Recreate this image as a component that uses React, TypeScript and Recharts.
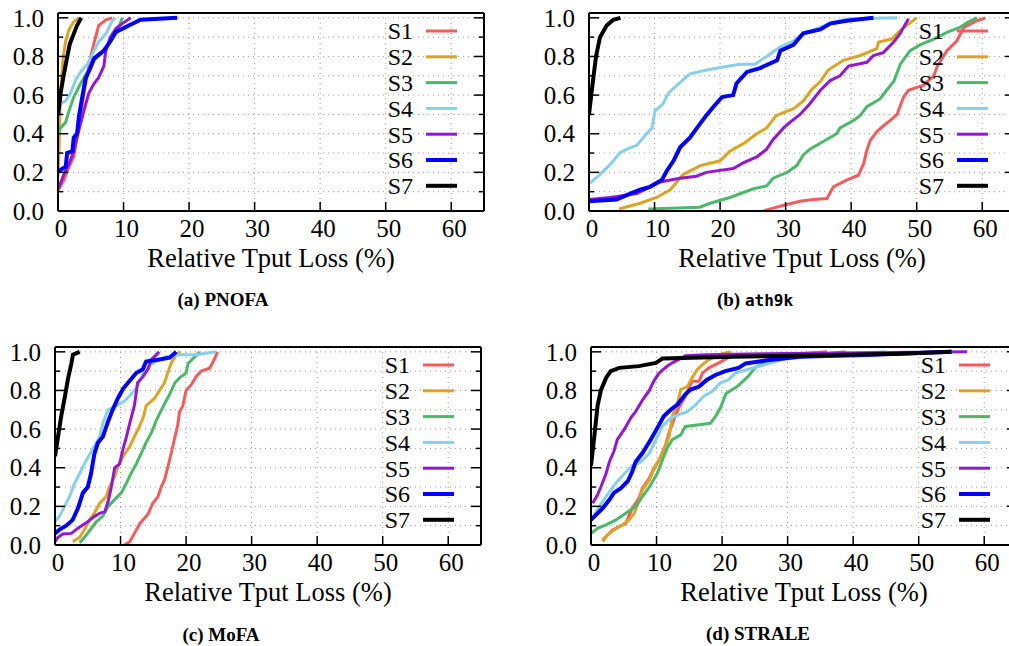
import { LineChart, Line, CartesianGrid, XAxis, YAxis, Legend } from 'recharts';

type Pt = [number, number];

const seriesNames = ['S1', 'S2', 'S3', 'S4', 'S5', 'S6', 'S7'];
const seriesColors = ['#f25c5c', '#dca324', '#4cb86a', '#87cfea', '#9418d3', '#0000ff', '#000000'];
const seriesWidths = [3, 3, 3, 3, 3, 4, 4];

const xTicks = [0, 10, 20, 30, 40, 50, 60];
const yTicks = [0, 0.1, 0.2, 0.3, 0.4, 0.5, 0.6, 0.7, 0.8, 0.9, 1.0];
const axisTitle = 'Relative Tput Loss (%)';

// (a) PNOFA
const pnofaS1: Pt[] = [[0, 0.12], [0.15, 0.115], [0.9, 0.16], [1.7, 0.23], [2.4, 0.28], [2.9, 0.38], [3.45, 0.5], [3.96, 0.61], [4.5, 0.71], [5, 0.8], [5.5, 0.87], [6.2, 0.96], [7.3, 0.99], [8.3, 1.0]];
const pnofaS2: Pt[] = [[0, 0.176], [0.15, 0.31], [0.3, 0.52], [0.5, 0.66], [0.8, 0.8], [1.17, 0.88], [1.7, 0.94], [2.4, 0.98], [3.2, 1.0]];
const pnofaS3: Pt[] = [[0, 0.4], [0.4, 0.43], [1.17, 0.46], [1.7, 0.52], [2.4, 0.59], [3.45, 0.66], [4.5, 0.72], [5.5, 0.78], [6.75, 0.82], [7.8, 0.865], [8.8, 0.917], [9.5, 0.97], [9.8, 1.0]];
const pnofaS4: Pt[] = [[0, 0.486], [0.4, 0.555], [1.17, 0.57], [1.93, 0.61], [2.7, 0.68], [3.45, 0.72], [4.5, 0.76], [5.5, 0.83], [6.2, 0.875], [7.3, 0.917], [8.3, 0.986], [8.8, 1.0]];
const pnofaS5: Pt[] = [[0, 0.12], [0.15, 0.124], [0.9, 0.19], [1.7, 0.245], [2.4, 0.31], [3.2, 0.42], [3.96, 0.52], [4.7, 0.61], [5.5, 0.66], [6.2, 0.69], [7, 0.75], [7.3, 0.83], [8, 0.9], [8.8, 0.943], [9.8, 0.97], [11.1, 1.0]];
const pnofaS6: Pt[] = [[0, 0.21], [0.25, 0.21], [1.17, 0.23], [1.4, 0.3], [2.2, 0.31], [2.4, 0.38], [2.9, 0.4], [3.2, 0.49], [3.45, 0.54], [3.96, 0.64], [4.2, 0.685], [5, 0.745], [5.5, 0.79], [7, 0.83], [8, 0.88], [8.8, 0.925], [9.8, 0.943], [10.8, 0.96], [12.6, 0.99], [18.2, 1.0]];
const pnofaS7: Pt[] = [[0, 0.495], [0.4, 0.61], [0.8, 0.69], [1.3, 0.78], [1.8, 0.865], [2.4, 0.917], [2.9, 0.96], [3.55, 1.0]];

// (b) ath9k
const athS1: Pt[] = [[26.6, 0], [29.7, 0.03], [32.2, 0.05], [34.2, 0.06], [36.3, 0.065], [37.3, 0.125], [39.3, 0.16], [41.1, 0.185], [41.9, 0.245], [42.4, 0.315], [42.9, 0.365], [43.9, 0.41], [44.9, 0.44], [46, 0.47], [47, 0.5], [48, 0.59], [48.75, 0.625], [50, 0.64], [51, 0.65], [52.6, 0.7], [53.1, 0.745], [54.6, 0.83], [56.1, 0.88], [57.2, 0.95], [59.2, 0.985], [60.5, 1.0]];
const athS2: Pt[] = [[4.6, 0.01], [7.8, 0.04], [10.3, 0.07], [12.4, 0.11], [14.4, 0.19], [17, 0.235], [20, 0.26], [21.5, 0.31], [23.6, 0.35], [25.6, 0.4], [27.1, 0.43], [28.6, 0.495], [31.2, 0.53], [32.7, 0.57], [34, 0.63], [35.3, 0.67], [36.5, 0.73], [38.8, 0.78], [41.4, 0.805], [43.9, 0.84], [44.2, 0.875], [46.2, 0.89], [47.5, 0.935], [50, 1.0]];
const athS3: Pt[] = [[9.05, 0.01], [16.9, 0.02], [18.5, 0.04], [21.5, 0.07], [25.1, 0.115], [27.1, 0.13], [28.1, 0.17], [30.2, 0.2], [31.7, 0.235], [32.7, 0.29], [33.7, 0.32], [36, 0.365], [37.8, 0.4], [38.3, 0.43], [40.4, 0.47], [41.4, 0.495], [42.4, 0.54], [44.4, 0.58], [45.4, 0.625], [46.5, 0.67], [47.5, 0.76], [49, 0.83], [50.5, 0.86], [52.6, 0.89], [54.6, 0.925], [56.6, 0.95], [57.7, 0.975], [59.2, 1.0]];
const athS4: Pt[] = [[0, 0.14], [1.7, 0.19], [3.2, 0.24], [4.7, 0.3], [5.75, 0.32], [7.3, 0.34], [8.8, 0.4], [9.6, 0.43], [10.1, 0.52], [11.3, 0.555], [12.1, 0.61], [13.4, 0.65], [15.4, 0.71], [18, 0.73], [20.5, 0.745], [23, 0.76], [25.3, 0.76], [27.1, 0.8], [29.2, 0.85], [31.2, 0.88], [32.7, 0.92], [35.3, 0.95], [37.3, 0.98], [39.8, 0.995], [47, 1.0]];
const athS5: Pt[] = [[0, 0.06], [3.2, 0.07], [7.3, 0.09], [9.3, 0.125], [10.8, 0.15], [13.9, 0.17], [16.4, 0.18], [17.9, 0.2], [22, 0.22], [23.6, 0.25], [25.6, 0.28], [27.1, 0.32], [28.1, 0.37], [29.7, 0.43], [30.7, 0.46], [32.2, 0.5], [33.7, 0.555], [35.3, 0.625], [36.8, 0.675], [38.3, 0.7], [39.6, 0.75], [42.4, 0.77], [43.4, 0.805], [44.9, 0.82], [46.5, 0.875], [47.5, 0.92], [48.75, 0.995]];
const athS6: Pt[] = [[0, 0.05], [4.2, 0.06], [6.3, 0.09], [7.8, 0.11], [9.3, 0.125], [11.1, 0.16], [11.9, 0.21], [12.9, 0.26], [13.9, 0.33], [15.4, 0.38], [16.9, 0.45], [17.9, 0.495], [19, 0.54], [20.3, 0.59], [22, 0.6], [22.5, 0.66], [24.1, 0.72], [26.1, 0.74], [28.7, 0.78], [29.2, 0.83], [31.2, 0.86], [32.7, 0.92], [35.3, 0.94], [36.8, 0.97], [39.3, 0.985], [43.4, 1.0]];
const athS7: Pt[] = [[0, 0.5], [0.66, 0.69], [1.07, 0.8], [1.68, 0.9], [2.7, 0.96], [3.7, 0.99], [4.8, 1.0]];

// (c) MoFA
const mofaS1: Pt[] = [[10.6, 0], [11.4, 0.017], [12.4, 0.077], [12.9, 0.11], [14.2, 0.16], [14.9, 0.215], [15.7, 0.25], [16.2, 0.3], [16.7, 0.337], [17.2, 0.4], [17.7, 0.47], [18.2, 0.545], [18.7, 0.615], [19, 0.69], [19.5, 0.72], [20, 0.8], [20.8, 0.83], [21.5, 0.87], [22.3, 0.9], [23.6, 0.915], [24.3, 0.96], [24.8, 1.0]];
const mofaS2: Pt[] = [[2.74, 0.017], [3.76, 0.04], [4.5, 0.08], [5.3, 0.13], [6, 0.165], [6.8, 0.215], [7.8, 0.25], [8.3, 0.3], [9.1, 0.355], [9.6, 0.405], [10.4, 0.46], [11.4, 0.51], [12.1, 0.56], [12.9, 0.615], [13.5, 0.665], [13.9, 0.72], [15.2, 0.76], [15.95, 0.8], [16.7, 0.84], [17.2, 0.89], [17.7, 0.94], [18.5, 0.985], [19.1, 1.0]];
const mofaS3: Pt[] = [[3.76, 0.012], [4.5, 0.04], [5.3, 0.075], [6.3, 0.12], [7.3, 0.15], [8.1, 0.2], [9.1, 0.235], [10.1, 0.27], [10.9, 0.32], [11.6, 0.37], [12.4, 0.42], [13.1, 0.47], [13.9, 0.53], [14.7, 0.58], [15.4, 0.64], [15.95, 0.68], [16.7, 0.73], [17.5, 0.78], [18.3, 0.84], [19, 0.865], [20, 0.89], [20.3, 0.94], [22.1, 1.0]];
const mofaS4: Pt[] = [[0, 0.12], [0.7, 0.15], [1.47, 0.2], [2.2, 0.25], [3, 0.32], [3.76, 0.37], [4.5, 0.42], [5.3, 0.47], [6, 0.51], [6.8, 0.56], [7.3, 0.63], [8.1, 0.7], [9.3, 0.72], [10.6, 0.745], [11.6, 0.78], [12.4, 0.81], [12.9, 0.85], [13.5, 0.89], [14.4, 0.93], [15.4, 0.95], [17, 0.975], [19, 0.985], [21.5, 0.985], [24.5, 1.0]];
const mofaS5: Pt[] = [[0, 0.017], [0.46, 0.04], [1.2, 0.057], [2.5, 0.06], [3.5, 0.087], [4.8, 0.116], [6, 0.147], [6.8, 0.164], [7.6, 0.173], [8.1, 0.225], [8.6, 0.3], [9.1, 0.4], [9.85, 0.42], [10.4, 0.5], [10.9, 0.56], [11.4, 0.63], [12.1, 0.72], [12.4, 0.79], [12.6, 0.84], [13.4, 0.87], [14.2, 0.91], [14.7, 0.96], [15.9, 1.0]];
const mofaS6: Pt[] = [[0, 0.06], [0.7, 0.08], [1.7, 0.1], [2.7, 0.13], [3.5, 0.19], [4.26, 0.27], [5, 0.3], [5.5, 0.37], [6, 0.47], [6.55, 0.53], [7.3, 0.56], [8.1, 0.64], [8.8, 0.7], [9.6, 0.76], [10.4, 0.81], [11.4, 0.85], [12.4, 0.89], [13.4, 0.91], [13.9, 0.95], [15.9, 0.96], [17.5, 0.97], [18.5, 1.0]];
const mofaS7: Pt[] = [[0, 0.46], [0.46, 0.56], [0.96, 0.67], [1.47, 0.76], [1.98, 0.86], [2.5, 0.94], [2.74, 0.985], [3.76, 1.0]];

// (d) STRALE
const straleS1: Pt[] = [[1.77, 0.026], [2.5, 0.052], [3.3, 0.078], [4.3, 0.095], [5.3, 0.112], [6.3, 0.19], [7.3, 0.242], [7.85, 0.294], [8.9, 0.346], [9.6, 0.398], [10.4, 0.44], [11.4, 0.52], [11.9, 0.58], [12.65, 0.65], [13.4, 0.71], [14.4, 0.77], [15.4, 0.848], [16.5, 0.848], [17, 0.89], [18, 0.917], [19.5, 0.943], [21.6, 0.983], [31.7, 0.99], [36, 1.0]];
const straleS2: Pt[] = [[1.77, 0.017], [2.5, 0.052], [3.5, 0.078], [4.8, 0.104], [5.8, 0.13], [6.6, 0.164], [7.1, 0.208], [7.85, 0.285], [8.9, 0.337], [9.6, 0.39], [10.4, 0.44], [11.1, 0.49], [11.9, 0.56], [12.4, 0.666], [13.2, 0.735], [13.7, 0.805], [14.7, 0.82], [15.4, 0.865], [16.2, 0.908], [17, 0.934], [18, 0.96], [19.5, 0.985], [21.3, 1.0]];
const straleS3: Pt[] = [[0, 0.06], [1, 0.086], [2.3, 0.104], [3.8, 0.13], [5.3, 0.164], [6.8, 0.2], [7.85, 0.25], [8.9, 0.3], [10.1, 0.37], [10.9, 0.44], [11.6, 0.5], [12.4, 0.545], [13.7, 0.57], [14.4, 0.614], [16.5, 0.623], [18.2, 0.63], [19, 0.666], [19.75, 0.71], [20.6, 0.784], [22.3, 0.82], [23.9, 0.87], [25.1, 0.92], [26.6, 0.948], [31.7, 0.974], [38.8, 1.0]];
const straleS4: Pt[] = [[0.25, 0.14], [1.27, 0.2], [2.3, 0.25], [3.8, 0.32], [5.1, 0.37], [6.3, 0.41], [7.6, 0.43], [8.9, 0.476], [9.9, 0.545], [10.9, 0.614], [12.15, 0.657], [13.4, 0.675], [14.7, 0.69], [16, 0.727], [17.2, 0.77], [18.5, 0.796], [19.75, 0.84], [21, 0.856], [22, 0.89], [25.1, 0.92], [29.2, 0.96], [34.3, 0.98], [39.3, 0.99], [45, 1.0]];
const straleS5: Pt[] = [[0.25, 0.216], [1, 0.26], [1.5, 0.3], [2.3, 0.37], [2.8, 0.43], [3.5, 0.485], [4, 0.545], [5.1, 0.6], [6.1, 0.66], [6.8, 0.69], [7.85, 0.75], [8.9, 0.8], [9.6, 0.85], [10.4, 0.89], [11.6, 0.925], [12.4, 0.943], [13.4, 0.96], [14.4, 0.98], [17.5, 0.985], [26.6, 0.99], [57.4, 1.0]];
const straleS6: Pt[] = [[0, 0.13], [0.76, 0.156], [1.77, 0.19], [2.8, 0.234], [3.5, 0.27], [4.56, 0.294], [5.6, 0.33], [6.3, 0.38], [6.8, 0.43], [7.85, 0.476], [9.1, 0.545], [10.1, 0.605], [11.1, 0.666], [12.15, 0.7], [13.2, 0.727], [14.4, 0.78], [15.2, 0.805], [16.5, 0.82], [17.7, 0.856], [19, 0.88], [20.5, 0.9], [22.5, 0.917], [23.6, 0.94], [26.6, 0.955], [31.7, 0.974], [41.9, 0.983], [55, 1.0]];
const straleS7: Pt[] = [[0, 0.41], [0.5, 0.56], [1, 0.72], [1.5, 0.8], [2.3, 0.865], [3, 0.9], [4.3, 0.917], [7.3, 0.926], [9.9, 0.943], [10.9, 0.965], [21.6, 0.974], [36.8, 0.983], [47, 0.99], [55, 1.0]];

const serif = '"Liberation Serif", "Times New Roman", Times, serif';
const tickText = { fontSize: 25, fill: '#000', style: { fontFamily: serif } };
const tickStroke = { stroke: '#000', strokeWidth: 1.5 };

const isMajor = (v: number) => Math.round(v * 10) % 2 === 0;

const LeftTick = (p: any) => {
  const v = p.payload.value;
  return (
    <g>
      <line x1={p.x} x2={p.x + (isMajor(v) ? 10 : 5)} y1={p.y} y2={p.y} {...tickStroke} />
      {isMajor(v) && (
        <text x={p.x - 14} y={p.y} dy="0.35em" textAnchor="end" {...tickText}>{v.toFixed(1)}</text>
      )}
    </g>
  );
};

const RightTick = (p: any) => {
  const v = p.payload.value;
  return <line x1={p.x} x2={p.x - (isMajor(v) ? 10 : 5)} y1={p.y} y2={p.y} {...tickStroke} />;
};

const BottomTick = (p: any) => (
  <g>
    <line x1={p.x} x2={p.x} y1={p.y} y2={p.y - 9} {...tickStroke} />
    <text x={p.x + 3} y={p.y + 17} dy="0.35em" textAnchor="middle" {...tickText}>{p.payload.value}</text>
  </g>
);

const TopTick = (p: any) => <line x1={p.x} x2={p.x} y1={p.y} y2={p.y + 10} {...tickStroke} />;

const KeyBox = (props: any) => {
  const items = props.payload ?? [];
  return (
    <svg width={110} height={200} style={{ overflow: 'visible' }}>
      {items.map((it: any, i: number) => {
        const idx = seriesNames.indexOf(it.value);
        const cy = 18 + i * 25.8;
        return (
          <g key={it.value}>
            <text x={55} y={cy} dy="0.35em" textAnchor="end" fontSize={24} fill="#000" style={{ fontFamily: serif }}>{it.value}</text>
            <line x1={68} x2={99} y1={cy} y2={cy} stroke={it.color} strokeWidth={seriesWidths[idx] ?? 3} />
          </g>
        );
      })}
    </svg>
  );
};

const frame = { stroke: '#000', strokeWidth: 2 };

const Panel = ({ series, left, top }: { series: Pt[][]; left: number; top: number }) => (
  <div style={{ position: 'absolute', left, top }}>
    <LineChart width={500} height={320} margin={{ top: 12, left: 57, right: 15, bottom: 108 }}>
      <CartesianGrid xAxisId="b" yAxisId="l" stroke="#999" strokeDasharray="1 4" />
      <XAxis
        xAxisId="b"
        type="number"
        dataKey="x"
        domain={[0, 65]}
        ticks={xTicks}
        interval={0}
        height={1}
        tickSize={0}
        tickMargin={0}
        tickLine={false}
        tick={BottomTick}
        axisLine={frame}
        allowDataOverflow
        label={{ value: axisTitle, position: 'bottom', offset: 36, fill: '#000', fontSize: 26.5, style: { fontFamily: serif } }}
      />
      <XAxis
        xAxisId="t"
        orientation="top"
        type="number"
        domain={[0, 65]}
        ticks={xTicks}
        interval={0}
        height={1}
        tickSize={0}
        tickMargin={0}
        tickLine={false}
        tick={TopTick}
        axisLine={frame}
        allowDataOverflow
      />
      <YAxis
        yAxisId="l"
        type="number"
        domain={[0, 1.025]}
        ticks={yTicks}
        interval={0}
        width={1}
        tickSize={0}
        tickMargin={0}
        tickLine={false}
        tick={LeftTick}
        axisLine={frame}
        allowDataOverflow
      />
      <YAxis
        yAxisId="r"
        orientation="right"
        type="number"
        domain={[0, 1.025]}
        ticks={yTicks}
        interval={0}
        width={1}
        tickSize={0}
        tickMargin={0}
        tickLine={false}
        tick={RightTick}
        axisLine={frame}
        allowDataOverflow
      />
      <Legend
        layout="vertical"
        align="center"
        verticalAlign="middle"
        wrapperStyle={{ left: 358, top: 13, width: 110, height: 200 }}
        content={KeyBox}
      />
      {series.map((pts, i) => (
        <Line
          key={seriesNames[i]}
          name={seriesNames[i]}
          data={pts.map(([x, y]) => ({ x, y }))}
          dataKey="y"
          xAxisId="b"
          yAxisId="l"
          type="linear"
          stroke={seriesColors[i]}
          strokeWidth={seriesWidths[i]}
          dot={false}
          activeDot={false}
          isAnimationActive={false}
        />
      ))}
    </LineChart>
  </div>
);

const captionStyle = {
  position: 'absolute' as const,
  fontFamily: serif,
  fontWeight: 700,
  fontSize: 19,
  lineHeight: '20px',
  whiteSpace: 'nowrap' as const,
  transform: 'translate(-50%, -50%)',
};

export default function App() {
  return (
    <div style={{ position: 'fixed', left: 0, top: 0, width: 1009, height: 646, overflow: 'hidden', background: '#fff' }}>
      <Panel series={[pnofaS1, pnofaS2, pnofaS3, pnofaS4, pnofaS5, pnofaS6, pnofaS7]} left={0} top={0} />
      <Panel series={[athS1, athS2, athS3, athS4, athS5, athS6, athS7]} left={531} top={0} />
      <Panel series={[mofaS1, mofaS2, mofaS3, mofaS4, mofaS5, mofaS6, mofaS7]} left={-3} top={334} />
      <Panel series={[straleS1, straleS2, straleS3, straleS4, straleS5, straleS6, straleS7]} left={533} top={334} />
      <div style={{ ...captionStyle, left: 223, top: 300 }}>(a) PNOFA</div>
      <div style={{ ...captionStyle, left: 755, top: 300 }}>
        (b) <span style={{ fontFamily: '"DejaVu Sans Mono", monospace', fontSize: 16 }}>ath9k</span>
      </div>
      <div style={{ ...captionStyle, left: 221, top: 635 }}>(c) MoFA</div>
      <div style={{ ...captionStyle, left: 758, top: 634 }}>(d) STRALE</div>
    </div>
  );
}
